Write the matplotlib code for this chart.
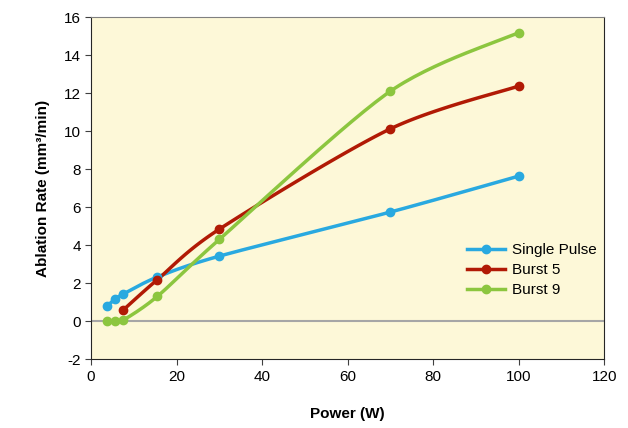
import numpy as np
import matplotlib
matplotlib.use('Agg')
import matplotlib.pyplot as plt

plt.rcParams['font.family'] = ['Liberation Sans', 'DejaVu Sans']
plt.rcParams['axes.unicode_minus'] = False

power_single = [3.75, 5.6, 7.5, 15.5, 30, 70, 100]
rate_single = [0.8, 1.16, 1.42, 2.32, 3.42, 5.74, 7.63]
power_b5 = [7.5, 15.5, 30, 70, 100]
rate_b5 = [0.58, 2.18, 4.84, 10.12, 12.37]
power_b9 = [3.75, 5.6, 7.5, 15.5, 30, 70, 100]
rate_b9 = [0.0, 0.03, 0.05, 1.3, 4.3, 12.1, 15.18]

labels = ['Single Pulse', 'Burst 5', 'Burst 9']
colors = ['#29A9E0', '#B11A05', '#8CC63F']

# pixels per data unit, so the smoothing behaves like excel's in screen space
sx, sy = 4.275, 19.0


def smooth(x, y, n=30, k=1 / 7):
    # catmull-rom style bezier, like excel "smoothed line"
    p = np.column_stack([np.array(x) * sx, np.array(y) * sy])
    out = [p[0]]
    for i in range(len(p) - 1):
        p0 = p[i - 1] if i > 0 else p[i]
        p1, p2 = p[i], p[i + 1]
        p3 = p[i + 2] if i + 2 < len(p) else p[i + 1]
        c1 = p1 + (p2 - p0) * k
        c2 = p2 - (p3 - p1) * k
        t = np.linspace(0, 1, n)[1:, None]
        seg = ((1 - t) ** 3) * p1 + 3 * ((1 - t) ** 2) * t * c1 + 3 * (1 - t) * t ** 2 * c2 + t ** 3 * p2
        out.extend(seg)
    out = np.array(out)
    return out[:, 0] / sx, out[:, 1] / sy


fig = plt.figure(figsize=(6.28, 4.28), dpi=100)
ax = fig.add_axes([0.145, 0.161, 0.817, 0.799])
ax.set_facecolor('#FDF8D8')

ax.axhline(0, color='#A6A6A6', lw=1.5, zorder=1)

series = [(power_single, rate_single), (power_b5, rate_b5), (power_b9, rate_b9)]
for (x, y), lab, c in zip(series, labels, colors):
    xs, ys = smooth(x, y)
    ax.plot(xs, ys, color=c, lw=2.5, zorder=3)
    ax.plot(x, y, 'o', color=c, ms=6, zorder=4)
    ax.plot([], [], '-o', color=c, lw=2.5, ms=6, label=lab)

ax.set_xlim(0, 120)
ax.set_ylim(-2, 16)
ax.set_xticks(range(0, 121, 20))
ax.set_yticks(range(-2, 17, 2))
ax.tick_params(direction='out', length=4, labelsize=11, color='#404040')
for s in ['left', 'bottom', 'right']:
    ax.spines[s].set_color('#262626')
ax.spines['top'].set_color('#808080')

ax.set_xlabel('Power (W)', fontsize=11, fontweight='bold', labelpad=17)
ax.set_ylabel('Ablation Rate (mm³/min)', fontsize=11, fontweight='bold', labelpad=10)

ax.legend(loc='center left', bbox_to_anchor=(0.705, 0.26), frameon=False,
          fontsize=11, handlelength=2.5, handletextpad=0.5, labelspacing=0.4)

fig.savefig('out.png', dpi=100)
